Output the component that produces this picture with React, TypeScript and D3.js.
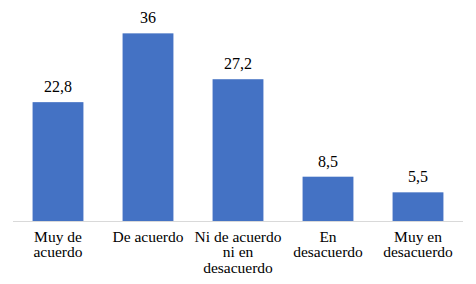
import React from "react";
import * as d3 from "d3";

const categories: string[][] = [
  ["Muy de", "acuerdo"],
  ["De acuerdo"],
  ["Ni de acuerdo", "ni en", "desacuerdo"],
  ["En", "desacuerdo"],
  ["Muy en", "desacuerdo"],
];
const values: number[] = [22.8, 36, 27.2, 8.5, 5.5];
const valueLabels: string[] = ["22,8", "36", "27,2", "8,5", "5,5"];

const W = 476;
const H = 284;
const left = 13;
const right = 463;
const baseline = 221;
const top = 12.5;

export default function App() {
  const x = d3
    .scaleBand<number>()
    .domain(values.map((_, i) => i))
    .range([left, right])
    .paddingInner(0.435)
    .paddingOuter(0.2175);
  const y = d3.scaleLinear().domain([0, 40]).range([baseline, top]);
  const font = "'Liberation Serif', 'Times New Roman', serif";
  return (
    <svg
      width={W}
      height={H}
      style={{ position: "absolute", left: 0, top: 0, background: "#fff" }}
    >
      <rect x={0} y={0} width={W} height={H} fill="#fff" />
      {values.map((v, i) => (
        <rect
          key={"b" + i}
          x={x(i)!}
          y={y(v)}
          width={x.bandwidth()}
          height={y(0) - y(v)}
          fill="#4472C4"
        />
      ))}
      <line
        x1={left}
        x2={right}
        y1={baseline + 0.5}
        y2={baseline + 0.5}
        stroke="#d9d9d9"
        strokeWidth={1}
      />
      {values.map((v, i) => (
        <text
          key={"v" + i}
          x={x(i)! + x.bandwidth() / 2}
          y={y(v) - 10}
          textAnchor="middle"
          style={{ fontFamily: font, fontSize: "16px" }}
          fill="#000"
        >
          {valueLabels[i]}
        </text>
      ))}
      {categories.map((lines, i) => (
        <text
          key={"c" + i}
          textAnchor="middle"
          style={{ fontFamily: font, fontSize: "15.5px" }}
          fill="#000"
        >
          {lines.map((l, j) => (
            <tspan
              key={j}
              x={x(i)! + x.bandwidth() / 2}
              y={baseline + 21 + j * 15.3}
            >
              {l}
            </tspan>
          ))}
        </text>
      ))}
    </svg>
  );
}
